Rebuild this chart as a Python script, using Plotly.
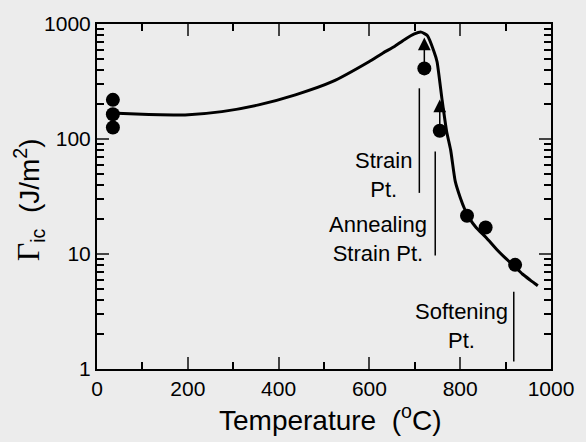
import numpy as np
import plotly.graph_objects as go

# Fitted curve (Temperature degC, Gamma_ic J/m^2)
curve_T = [30, 100, 194, 275, 356, 437, 518, 599, 630, 656, 677, 699, 714, 728, 742, 749, 760, 770, 779, 789, 800, 810, 820, 835, 857, 880, 901, 920, 937, 955, 971]
curve_G = [168, 164, 162, 173, 198, 242, 315, 470, 560, 640, 730, 820, 850, 790, 580, 470, 220, 117, 80, 43, 31, 24.5, 20.5, 17, 13.9, 11, 9.1, 7.8, 6.7, 5.9, 5.3]

# Measured points
pts_T = [35, 35, 35, 721, 755, 815, 856, 921]
pts_G = [219, 164, 126, 411, 118, 21.5, 17.0, 8.05]

# Arrows (lower bounds)
arrow_T = [721, 755]
arrow_from = [411, 118]
arrow_to = [762, 220]

# Marker lines for characteristic temperatures
mark_T = [710, 745, 918]
mark_top = [276, 78, 4.7]
mark_bot = [34, 9.7, 1.16]
label_text = ["Strain<br>Pt.", "Annealing<br>Strain Pt.", "Softening<br>Pt."]
label_T = [630, 618, 803]
label_G = [48.5, 13.6, 2.38]

x_ticks = [0, 200, 400, 600, 800, 1000]
x_minor = [100, 300, 500, 700, 900]
y_ticks = [1, 10, 100, 1000]
y_minor = [m * d for d in [1, 10, 100] for m in range(2, 10)]

FONT = "Liberation Sans, Arial, sans-serif"
BG = "#ececec"

fig = go.Figure()

fig.add_trace(go.Scatter(x=curve_T, y=curve_G, mode="lines", line=dict(color="black", width=3, shape="spline", smoothing=0.5), hoverinfo="skip"))

for t, y0, y1 in zip(mark_T, mark_bot, mark_top):
    fig.add_trace(go.Scatter(x=[t, t], y=[y0, y1], mode="lines", line=dict(color="black", width=1.5), hoverinfo="skip"))

fig.add_trace(go.Scatter(x=pts_T, y=pts_G, mode="markers", marker=dict(color="black", size=14)))

for t, g0, g1 in zip(arrow_T, arrow_from, arrow_to):
    fig.add_annotation(x=t, y=np.log10(g1), ax=t, ay=np.log10(g0), xref="x", yref="y", axref="x", ayref="y",
                       text="", showarrow=True, arrowhead=2, arrowsize=1.7, arrowwidth=1.5, arrowcolor="black")

for txt, t, g in zip(label_text, label_T, label_G):
    fig.add_annotation(x=t, y=np.log10(g), xref="x", yref="y", text=txt, showarrow=False,
                       font=dict(family=FONT, size=22, color="black"), align="center")

# Axis titles
fig.add_annotation(xref="paper", yref="paper", x=-0.149, y=0.49, textangle=-90, showarrow=False,
                   text="<span style='font-family:Liberation Serif;font-size:32px'>\u0393</span><sub>ic</sub>\u00a0\u00a0(J/m<sup>2</sup>)",
                   font=dict(family=FONT, size=28, color="black"), xanchor="center", yanchor="middle")
fig.add_annotation(xref="paper", yref="paper", x=0.515, y=-0.143, showarrow=False,
                   text="Temperature\u00a0\u00a0(<sup>o</sup>C)",
                   font=dict(family=FONT, size=28, color="black"), xanchor="center", yanchor="middle")

fig.update_layout(
    width=586, height=442,
    margin=dict(l=97, r=27, t=22, b=73),
    paper_bgcolor=BG, plot_bgcolor=BG,
    showlegend=False,
    font=dict(family=FONT, color="black"),
    xaxis=dict(range=[0, 1000], tickvals=x_ticks, ticks="inside", ticklen=12, tickwidth=2,
               showline=True, linewidth=2, linecolor="black", mirror="ticks", showgrid=False, zeroline=False,
               tickfont=dict(size=21), minor=dict(tickvals=x_minor, ticks="inside", ticklen=7, tickwidth=2, tickcolor="black")),
    yaxis=dict(type="log", range=[0, 3], tickvals=y_ticks, ticktext=["1", "10", "100", "1000"], ticks="inside", ticklen=12, tickwidth=2,
               showline=True, linewidth=2, linecolor="black", mirror="ticks", showgrid=False, zeroline=False,
               tickfont=dict(size=21), minor=dict(tickvals=y_minor, ticks="inside", ticklen=7, tickwidth=2, tickcolor="black")),
)

fig.write_html("out.html")
